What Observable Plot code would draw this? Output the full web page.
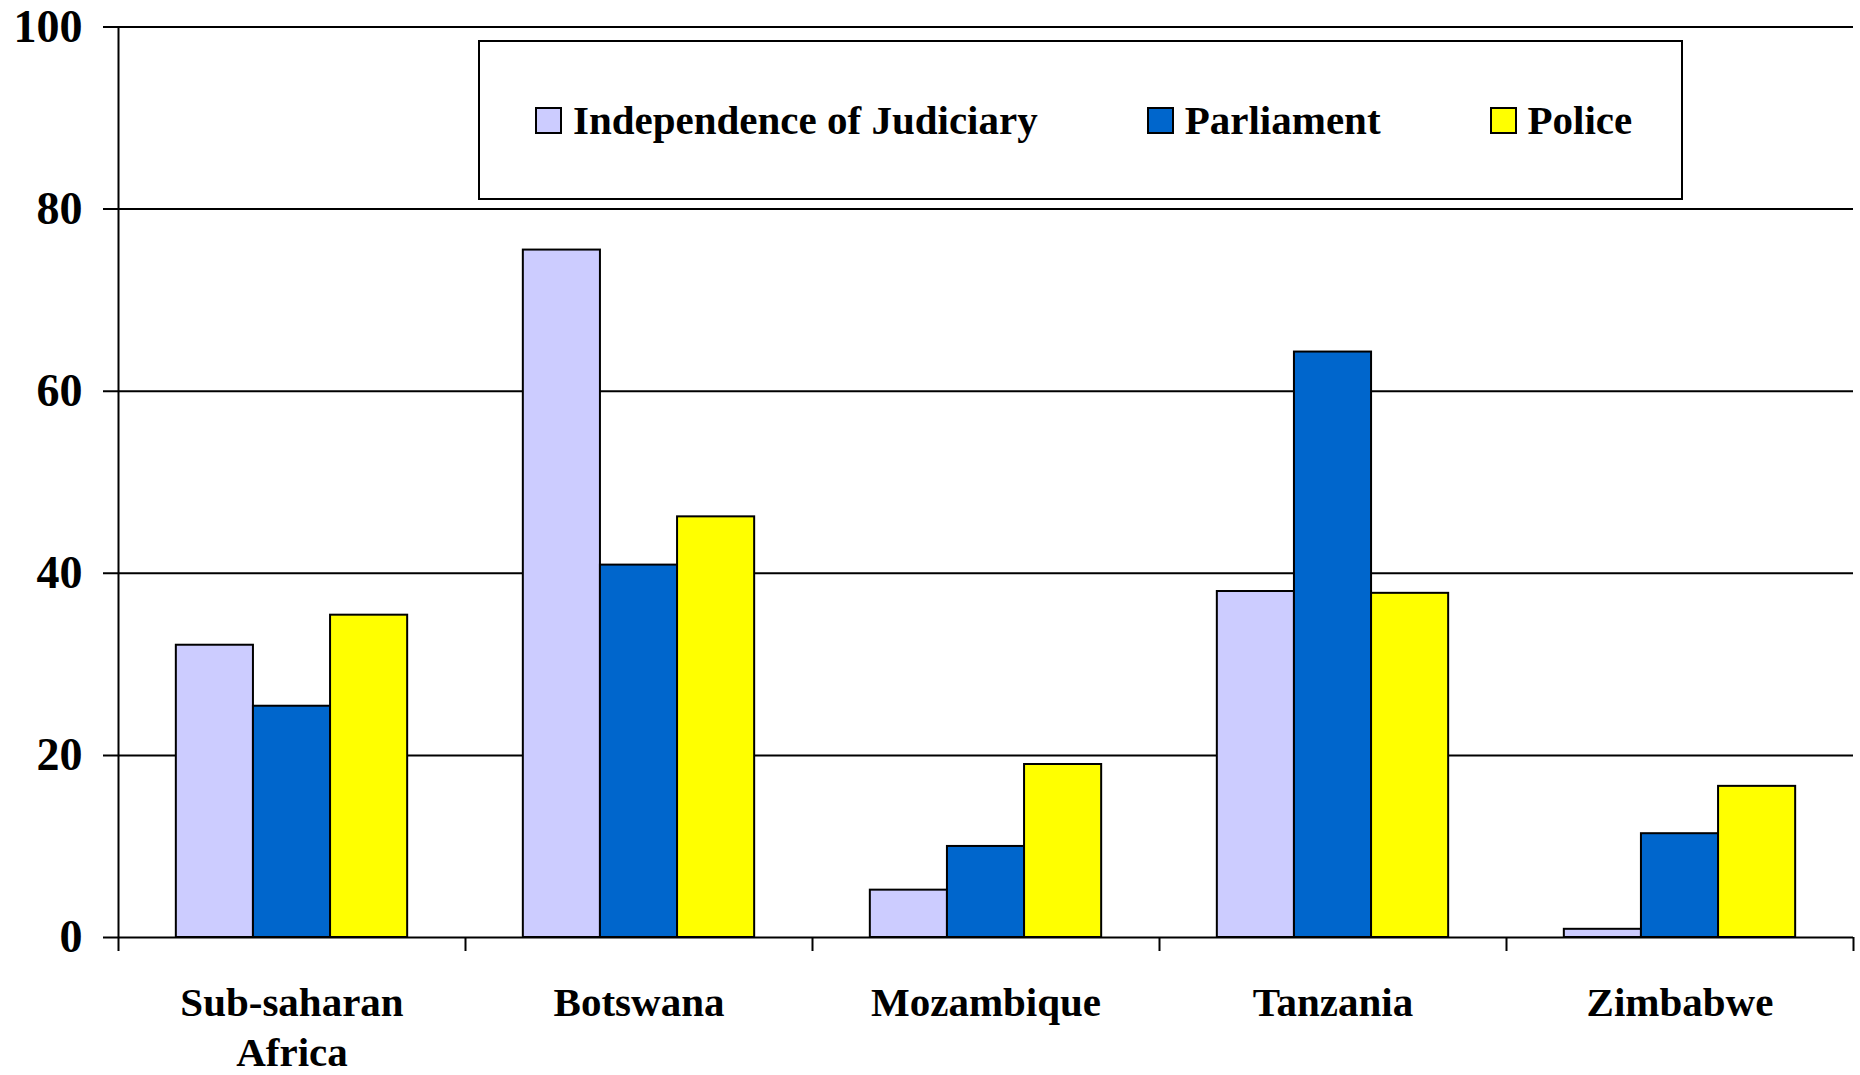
<!DOCTYPE html>
<html>
<head>
<meta charset="utf-8">
<script src="https://cdn.jsdelivr.net/npm/d3@7"></script>
<script src="https://cdn.jsdelivr.net/npm/@observablehq/plot@0.6"></script>
<style>
  body { margin: 0; background: #fff; }
  #wrap { position: relative; width: 1860px; height: 1075px; overflow: hidden; }
  #legend {
    position: absolute; left: 478px; top: 40px; width: 1205px; height: 160px;
    box-sizing: border-box; border: 2px solid #000; background: #fff;
    display: flex; align-items: center; padding-left: 55px; gap: 109px;
    font-family: "Liberation Serif", "Times New Roman", serif; font-weight: bold; font-size: 41px;
    color: #000;
  }
  #legend .item { display: flex; align-items: center; gap: 11px; line-height: 1; white-space: nowrap; }
  #legend .sw { width: 27px; height: 27px; box-sizing: border-box; border: 2px solid #000; }
</style>
</head>
<body>
<div id="wrap"><div id="chart"></div><div id="legend"></div></div>
<script>
// ---- data ----
const categories = ["Sub-saharan\nAfrica", "Botswana", "Mozambique", "Tanzania", "Zimbabwe"];
const seriesNames = ["Independence of Judiciary", "Parliament", "Police"];
const judiciary = [32.1, 75.5, 5.2, 38.0, 0.9];
const parliament = [25.4, 40.9, 10.0, 64.3, 11.4];
const police = [35.4, 46.2, 19.0, 37.8, 16.6];
const seriesColors = ["#CCCCFF", "#0066CC", "#FFFF00"];
const yTicks = [0, 20, 40, 60, 80, 100];

// ---- layout ----
const W = 1860, H = 1075;
const mL = 118, mR = 7, mT = 26.5, mB = 138;
const bw = (W - mL - mR) / categories.length;   // band step
const barW = bw / 4.5;                          // gap width 150%
const font = '"Liberation Serif", "Times New Roman", serif';

const seriesValues = [judiciary, parliament, police];
const rows = [];
seriesNames.forEach((s, j) => categories.forEach((c, i) => rows.push({cat: c, series: s, j, value: seriesValues[j][i]})));

const barMarks = seriesNames.map((s, j) => {
  const il = 0.75 * barW + j * barW;
  return Plot.barY(rows.filter(d => d.j === j), {
    x: "cat", y1: 0, y2: "value",
    fill: seriesColors[j], stroke: "#000", strokeWidth: 2,
    insetLeft: il, insetRight: bw - il - barW
  });
});

const chart = Plot.plot({
  width: W, height: H,
  marginLeft: mL, marginRight: mR, marginTop: mT, marginBottom: mB,
  style: {fontFamily: font, fontWeight: "bold", fontSize: "41px", color: "#000", background: "#fff"},
  x: {domain: categories, padding: 0, round: false, label: null},
  y: {domain: [0, 100], label: null},
  marks: [
    Plot.ruleY(yTicks, {stroke: "#000", strokeWidth: 2, insetLeft: -15}),
    ...barMarks,
    Plot.ruleX([categories[0]], {x: d => d, y1: 100, y2: 0, insetBottom: -14, dx: -bw / 2, stroke: "#000", strokeWidth: 2}),
    Plot.ruleX(categories.slice(1), {x: d => d, y1: 0, y2: 0, insetBottom: -14, dx: -bw / 2, stroke: "#000", strokeWidth: 2}),
    Plot.ruleX([categories[categories.length - 1]], {x: d => d, y1: 0, y2: 0, insetBottom: -14, dx: bw / 2, stroke: "#000", strokeWidth: 2}),
    Plot.axisY(yTicks, {tickSize: 0, tickPadding: 36, fontSize: 46, fontWeight: "bold", fontFamily: font, label: null}),
    Plot.axisX({tickSize: 0, tickPadding: 44, fontSize: 41, fontWeight: "bold", fontFamily: font, lineHeight: 1.2, label: null})
  ]
});
document.getElementById("chart").appendChild(chart);

// ---- legend ----
const leg = d3.select("#legend");
seriesNames.forEach((s, j) => {
  const it = leg.append("div").attr("class", "item");
  it.append("div").attr("class", "sw").style("background", seriesColors[j]);
  it.append("span").text(s);
});
</script>
</body>
</html>
